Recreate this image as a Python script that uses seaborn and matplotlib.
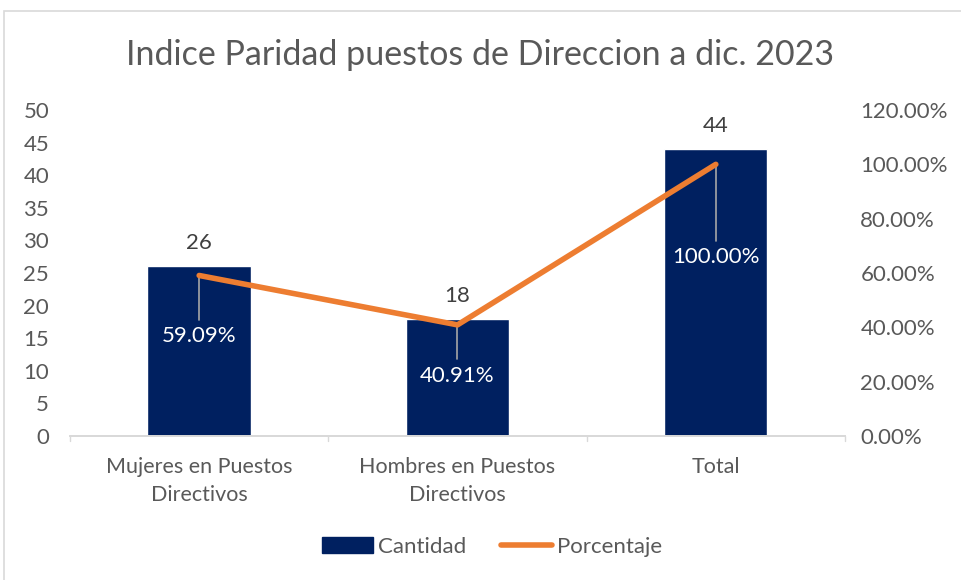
import matplotlib
matplotlib.use("Agg")
import matplotlib.pyplot as plt
import seaborn as sns
from matplotlib.patches import Rectangle
from matplotlib.lines import Line2D
from matplotlib.ticker import PercentFormatter

categories = ["Mujeres en Puestos\nDirectivos", "Hombres en Puestos\nDirectivos", "Total"]
cantidad = [26, 18, 44]
porcentaje = [59.09, 40.91, 100.00]

navy = "#002060"
orange = "#ED7D31"
grey_txt = "#595959"
grey_line = "#D9D9D9"

sns.set_theme(style="white")
plt.rcParams["font.family"] = ["Lato", "DejaVu Sans"]

fig = plt.figure(figsize=(9.61, 5.80), dpi=100)
ax = fig.add_axes([70 / 961, 1 - 436 / 580, 775 / 961, 326 / 580])

sns.barplot(x=categories, y=cantidad, color=navy, width=0.4, saturation=1, ax=ax)
ax.set_ylim(0, 50)
ax.set_yticks(range(0, 51, 5))
ax.set_xlim(-0.5, 2.5)
ax.set_xlabel("")
ax.set_ylabel("")

ax2 = ax.twinx()
sns.lineplot(x=categories, y=porcentaje, color=orange, linewidth=4, ax=ax2,
             solid_capstyle="round")
ax2.set_ylim(0, 120)
ax2.set_yticks(range(0, 121, 20))
ax2.yaxis.set_major_formatter(PercentFormatter(decimals=2))
ax2.set_ylabel("")

for a in (ax, ax2):
    for s in ("top", "left", "right"):
        a.spines[s].set_visible(False)
    a.spines["bottom"].set_color(grey_line)
    a.tick_params(axis="y", length=0, labelsize=16, labelcolor=grey_txt)
    a.grid(False)

ax.tick_params(axis="y", pad=15)
ax.tick_params(axis="x", length=0, labelsize=15.5, labelcolor=grey_txt, pad=15)
for lbl in ax.get_xticklabels():
    lbl.set_linespacing(1.5)
ax2.tick_params(axis="y", pad=11)

# tick marks between categories
for xb in (-0.5, 0.5, 1.5, 2.5):
    ax.plot([xb, xb], [0, -0.8], color=grey_line, lw=1, clip_on=False)

# count labels
for i, v in enumerate(cantidad):
    ax.text(i, v + 2.0, f"{v}", ha="center", va="bottom", fontsize=16, color="#404040")

# percent labels with leader lines (label y in percent-axis units)
pct_label_y = [36.8, 22.2, 65.9]
for i, (p, ly) in enumerate(zip(porcentaje, pct_label_y)):
    ax2.plot([i, i], [p, ly + 6], color="#A6A6A6", lw=1.2, zorder=1)
    ax2.text(i, ly, f"{p:.2f}%", ha="center", va="center", fontsize=16, color="white")
ax2.lines[0].set_zorder(3)

fig.text(0.5, 1 - 55 / 580, "Indice Paridad puestos de Direccion a dic. 2023",
         ha="center", va="center", fontsize=24.5, color=grey_txt)

handles = [Rectangle((0, 0), 1, 1, color=navy),
           Line2D([0], [0], color=orange, lw=4, solid_capstyle="round")]
fig.legend(handles, ["Cantidad", "Porcentaje"], loc="center", ncol=2,
           bbox_to_anchor=(492 / 961, 1 - 547 / 580), frameon=False, fontsize=16,
           labelcolor=grey_txt, handlelength=2.3, handletextpad=0.2, columnspacing=1.6)

fig.add_artist(Rectangle((4 / 961, -0.01), 1.0, 1 - 11 / 580 + 0.01, transform=fig.transFigure,
                         fill=False, edgecolor="#D9D9D9", lw=1.2))

fig.savefig("out.png", dpi=100)
